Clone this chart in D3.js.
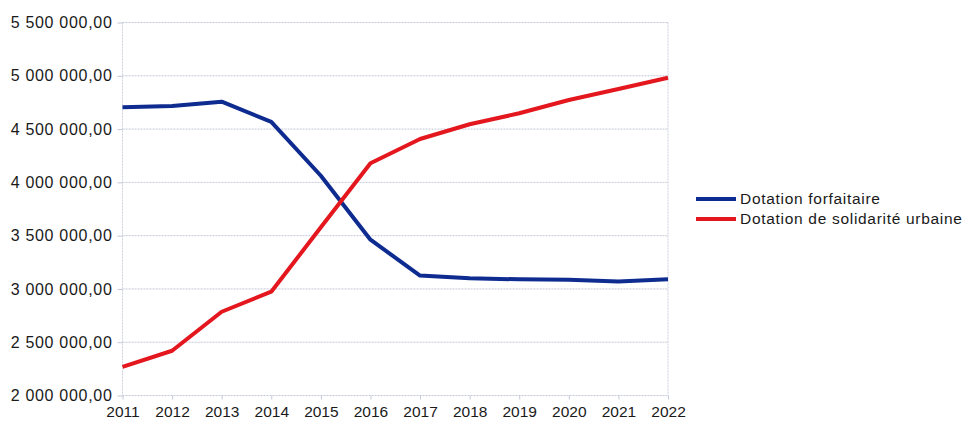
<!DOCTYPE html>
<html><head><meta charset="utf-8">
<script src="https://cdn.jsdelivr.net/npm/d3@7"></script>
<style>
body{margin:0;background:#fff;}
text{font-family:"Liberation Sans",Arial,sans-serif;fill:#1a1a1a;}
</style></head>
<body>
<svg id="chart" width="966" height="422"></svg>
<script>
const years = [2011,2012,2013,2014,2015,2016,2017,2018,2019,2020,2021,2022];
const forfaitaire = [4704000,4717000,4757000,4568000,4062000,3462000,3125000,3100000,3090000,3085000,3070000,3090000];
const dsu = [2268000,2420000,2786000,2974000,3578000,4179000,4407000,4545000,4648000,4773000,4876000,4982000];
const yTicks = [2000000,2500000,3000000,3500000,4000000,4500000,5000000,5500000];
const seriesNames = ["Dotation forfaitaire","Dotation de solidarité urbaine"];
const colors = ["#0e2b90","#e3171d"];

const svg = d3.select("#chart");
const L=122.5, R=668, T=22.5, B=395.5;
const x = d3.scalePoint().domain(years).range([L,R]);
const y = d3.scaleLinear().domain([2000000,5500000]).range([B,T]);

const fmt = v => d3.format(",.2f")(v).replace(/,/g," ").replace(".",",");

// gridlines
svg.append("g").selectAll("line").data(yTicks).join("line")
  .attr("x1",L).attr("x2",R).attr("y1",d=>y(d)).attr("y2",d=>y(d))
  .attr("stroke","#c4c8d8").attr("stroke-width",1).attr("stroke-dasharray","2,1");
// vertical frame lines
[L,R].forEach(xx=>svg.append("line").attr("x1",xx).attr("x2",xx).attr("y1",T).attr("y2",B)
  .attr("stroke","#ccd0dc").attr("stroke-dasharray","2,1"));

// y axis
const yAxis = d3.axisLeft(y).tickValues(yTicks).tickFormat(fmt).tickSize(5).tickPadding(5);
const gy = svg.append("g").attr("transform",`translate(${L},0)`).call(yAxis);
gy.select(".domain").remove();
gy.selectAll("line").attr("stroke","#c4c8d8");
gy.selectAll("text").style("font-size","16px").style("letter-spacing","0.7px").attr("fill","#1a1a1a");

// x axis
const xAxis = d3.axisBottom(x).tickSize(4).tickPadding(6);
const gx = svg.append("g").attr("transform",`translate(0,${B})`).call(xAxis);
gx.select(".domain").remove();
gx.selectAll("line").attr("stroke","#c4c8d8");
gx.selectAll("text").style("font-size","15.5px").attr("fill","#1a1a1a").attr("dy","0.71em");

// lines
const line = d3.line().x((d,i)=>x(years[i])).y(d=>y(d));
[forfaitaire,dsu].forEach((s,k)=>{
  svg.append("path").datum(s).attr("d",line).attr("fill","none")
    .attr("stroke",colors[k]).attr("stroke-width",4).attr("stroke-linejoin","round");
});

// legend
const lg = svg.append("g");
seriesNames.forEach((n,k)=>{
  const yy = 199 + k*20;
  lg.append("line").attr("x1",696).attr("x2",736).attr("y1",yy).attr("y2",yy)
    .attr("stroke",colors[k]).attr("stroke-width",4);
  lg.append("text").attr("x",740).attr("y",yy).attr("dy","0.35em")
    .style("font-size","15.5px").style("letter-spacing","0.7px").text(n);
});
</script>
</body></html>
